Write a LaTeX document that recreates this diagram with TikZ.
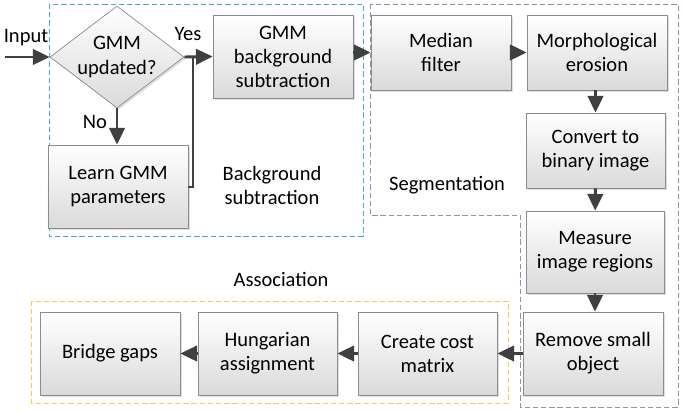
\documentclass[tikz,border=0pt]{standalone}
\usepackage{fontspec}
\setmainfont{Carlito}
\usetikzlibrary{shapes.geometric,arrows.meta,shadows}
\definecolor{arrgray}{HTML}{404040}
\definecolor{boxedge}{HTML}{8C8C8C}
\definecolor{boxfill}{HTML}{DADADA}
\definecolor{bgblue}{HTML}{4BACC6}
\definecolor{segpurple}{HTML}{9A8CB8}
\definecolor{assocyellow}{HTML}{F2CC4A}

\begin{document}
\begin{tikzpicture}[x=0.03cm, y=0.03cm]
\tikzset{ >={Triangle[length=0.5cm,width=0.46cm]},
  txt/.style={font=\fontsize{17.5}{20.5}\selectfont, align=center, inner sep=0pt},
  box/.style={txt, draw=boxedge, line width=0.6pt, top color=white, bottom color=boxfill,
    minimum width=4.2cm, minimum height=2.49cm,
    drop shadow={opacity=0.25, shadow xshift=0.05cm, shadow yshift=-0.05cm}},
  lowbox/.style={box, minimum height=2.25cm},
  decision/.style={diamond, draw=boxedge, line width=0.6pt, top color=white, bottom color=boxfill,
    inner sep=0pt, minimum width=4.02cm, minimum height=3.06cm,
    drop shadow={opacity=0.25, shadow xshift=0.05cm, shadow yshift=-0.05cm}},
  arr/.style={->, draw=arrgray, line width=2.5pt},
  link/.style={draw=arrgray, line width=2.5pt},
  region/.style={line width=0.8pt, dash pattern=on 4.5pt off 2.5pt},
}

\useasboundingbox [fill=white] (0,0) rectangle (685,410);

%\draw [lightgray, dashed](0,0) grid[step=50] (685,410);

% regions
\draw [region, bgblue] (49,406) rectangle (363,174);
\draw [region, segpurple] (370,406) -- (370,195) -- (520,195) -- (520,3)
                          -- (678,3) -- (678,406) -- cycle;
\draw [region, assocyellow] (31,109) rectangle (508,7);

\node [decision] (gmmq) at (117,353) {};
\node [txt] (gmmqtxt) at (gmmq) {GMM\\updated?};

\node [box]    (gmmbg)   at (283,353.5) {GMM\\background\\subtraction};
\node [box]    (learn)   at (118,223.5) {Learn GMM\\parameters};
\node [lowbox] (median)  at (441,357.5) {Median\\filter};
\node [lowbox] (morph)   at (597,357.5) {Morphological\\erosion};
\node [lowbox, minimum width=4.17cm] (convert) at (595.5,259.5) {Convert to\\binary image};
\node [box, minimum width=4.14cm, minimum height=2.46cm] (measure) at (595,158) {Measure\\image regions};
\node [box]    (remove)  at (593,56.5)  {Remove small\\object};
\node [box, minimum width=4.17cm] (create) at (427.5,56.5) {Create cost\\matrix};
\node [box, minimum width=4.17cm] (hung)   at (267.5,56.5) {Hungarian\\assignment};
\node [box]    (bridge)  at (110,56.5)  {Bridge gaps};

\node [txt] (input) at (26,372) {Input};
\node [txt] (yes)   at (188,376) {Yes};
\node [txt] (no)    at (95,288)  {No};

\node [txt] (bgsub) at (272,225) {Background\\subtraction};
\node [txt] (seg)   at (447,225) {Segmentation};
\node [txt] (assoc) at (281,131) {Association};

\coordinate (in)   at (5,353);
\coordinate (join) at (193,353);

\draw [arr] (in) -- (gmmq.west);
\draw [arr] (gmmq.east) -- (gmmbg.west);
\draw [arr] (gmmq.south) -- (learn.north -| gmmq.south);
\draw [link] (learn.east |- 0,223) -| (join);
\draw [arr] (gmmbg.east |- median) -- (median.west);
\draw [arr] (median) -- (morph);
\draw [arr] (convert.north |- morph.south) -- (convert.north);
\draw [arr] (convert) -- (measure);
\draw [arr] (measure.south) -- (measure.south |- remove.north);
\draw [arr] (remove) -- (create);
\draw [arr] (create) -- (hung);
\draw [arr] (hung) -- (bridge);

\end{tikzpicture}
\end{document}
